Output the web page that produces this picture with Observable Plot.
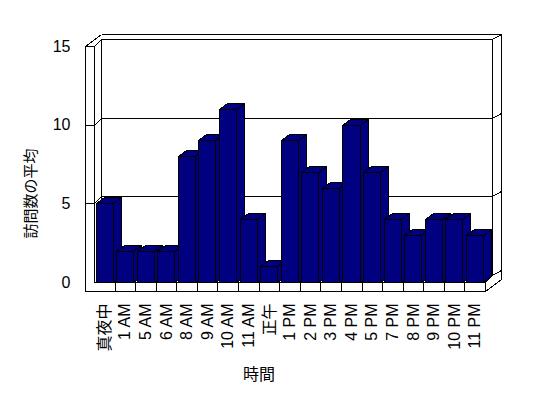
<!DOCTYPE html>
<html><head><meta charset="utf-8">
<script src="https://cdn.jsdelivr.net/npm/d3@7"></script>
<script src="https://cdn.jsdelivr.net/npm/@observablehq/plot@0.6"></script>
<style>body{margin:0;background:#fff;} svg{display:block;}</style>
</head><body><div id="chart"></div>
<script>
const categories = ["真夜中","1 AM","5 AM","6 AM","8 AM","9 AM","10 AM","11 AM","正午","1 PM","2 PM","3 PM","4 PM","5 PM","7 PM","8 PM","9 PM","10 PM","11 PM"];
const visits = [5,2,2,2,8,9,11,4,1,9,7,6,10,7,4,3,4,4,3];
const yTicks = [0,5,10,15];
const gridValues = [5,10];
const xTitle = "時間";
const yTitle = "訪問数の平均";

const data = categories.map((c, i) => ({cat: c, val: visits[i]}));

const W = 548, H = 398;
const FONT = "'Liberation Sans Narrow','Liberation Sans','Noto Sans CJK JP',sans-serif";
const NAVY = "#000080";
const DX = 7, DY = -7;   // back wall depth
const BX = 8, BY = -6;   // bar depth
const OX = 16, OY = -12; // outer wall depth
const T = 9;             // wall/floor thickness
const NS = "http://www.w3.org/2000/svg";
const r = v => Math.round(v) + 0.5;
function el(tag, attrs) { const e = document.createElementNS(NS, tag); for (const k in attrs) e.setAttribute(k, attrs[k]); return e; }
function poly(pts, fill) { return el("polygon", {points: pts.map(p => r(p[0]) + "," + r(p[1])).join(" "), fill, stroke: "black", "stroke-width": 1}); }
function ln(g, x1, y1, x2, y2) { g.append(el("line", {x1: r(x1), y1: r(y1), x2: r(x2), y2: r(y2), stroke: "black", "stroke-width": 1})); }
function bw(x) { return x.bandwidth ? x.bandwidth() : 0; }

function frameRender(index, scales) {
  const x = scales.x, y = scales.y;
  const xL = x(categories[0]);
  const xR = x(categories[categories.length - 1]) + bw(x);
  const y0 = y(0), yT = y(yTicks[yTicks.length - 1]);
  const g = el("g", {"shape-rendering": "crispEdges", fill: "none"});
  // outer silhouette
  ln(g, xL - T, yT, xL - T + OX, yT + OY);
  ln(g, xL - T + OX, yT + OY, xR + OX, yT + OY);
  ln(g, xR + OX, yT + OY, xR + OX, y0 + T + OY);
  ln(g, xR + OX, y0 + T + OY, xR, y0 + T);
  ln(g, xR, y0 + T, xL - T, y0 + T);
  ln(g, xL - T, y0 + T, xL - T, yT);
  // left wall front face
  ln(g, xL - T, yT, xL, yT);
  ln(g, xL, yT, xL, y0);
  ln(g, xL, yT, xL + DX, yT + DY);
  // back wall
  ln(g, xL + DX, yT + DY, xR + DX, yT + DY);
  ln(g, xR + DX, yT + DY, xR + DX, y0 + DY);
  ln(g, xR + DX, yT + DY, xR + OX, yT + OY);
  ln(g, xL + DX, yT + DY, xL + DX, y0 + DY);
  ln(g, xL + DX, y0 + DY, xR + DX, y0 + DY);
  ln(g, xR + DX, y0 + DY, xR + OX, y0 + OY);
  // floor
  ln(g, xL, y0, xR, y0);
  ln(g, xR, y0, xR, y0 + T);
  ln(g, xR, y0, xR + DX, y0 + DY);
  for (const c of categories) {
    const xb = x(c) + bw(x);
    ln(g, xb, y0, xb, y0 + T);
  }
  // gridlines
  for (const v of gridValues) {
    const yv = y(v);
    ln(g, xL + DX, yv + DY, xR + DX, yv + DY);
    ln(g, xL, yv, xL + DX, yv + DY);
    ln(g, xL - T, yv, xL, yv);
    ln(g, xR + DX, yv + DY, xR + OX, yv + OY);
  }
  return g;
}

function barsRender(index, scales) {
  const x = scales.x, y = scales.y;
  const g = el("g", {"shape-rendering": "crispEdges"});
  const y0 = y(0);
  for (const i of index) {
    const d = data[i];
    const x1 = x(d.cat) + 1.5, x2 = x(d.cat) + bw(x) - 2;
    const yv = y(d.val);
    g.append(poly([[x2, yv], [x2 + BX, yv + BY], [x2 + BX, y0 + BY], [x2, y0]], NAVY));
    g.append(poly([[x1, yv], [x2, yv], [x2 + BX, yv + BY], [x1 + BX, yv + BY]], NAVY));
    g.append(poly([[x1, yv], [x2, yv], [x2, y0], [x1, y0]], NAVY));
  }
  return g;
}

const chart = Plot.plot({
  width: W, height: H,
  marginLeft: 94, marginRight: 63, marginTop: 46, marginBottom: 116,
  style: {background: "#fff", fontFamily: FONT, color: "black"},
  x: {type: "band", domain: categories, padding: 0, round: false, axis: null},
  y: {domain: [0, 15], range: [282, 46]},
  marks: [
    Plot.barY(data, {x: "cat", y: "val", render: frameRender}),
    Plot.barY(data, {x: "cat", y: "val", render: barsRender}),
    Plot.axisY({ticks: yTicks, tickSize: 0, tickPadding: 24, fontSize: 16, fontFamily: FONT, label: null}),
    Plot.text(data, {x: "cat", text: "cat", frameAnchor: "bottom", rotate: -90, textAnchor: "end", lineAnchor: "middle", dy: 21, fontSize: 16, fontFamily: FONT}),
    Plot.text([yTitle], {frameAnchor: "left", rotate: -90, textAnchor: "middle", lineAnchor: "middle", dx: -63, dy: 29, fontSize: 15, fontFamily: FONT}),
    Plot.text([xTitle], {frameAnchor: "bottom", textAnchor: "middle", dx: -31, dy: 92, lineAnchor: "middle", fontSize: 16, fontFamily: FONT})
  ]
});
document.getElementById("chart").append(chart);
</script>
</body></html>
